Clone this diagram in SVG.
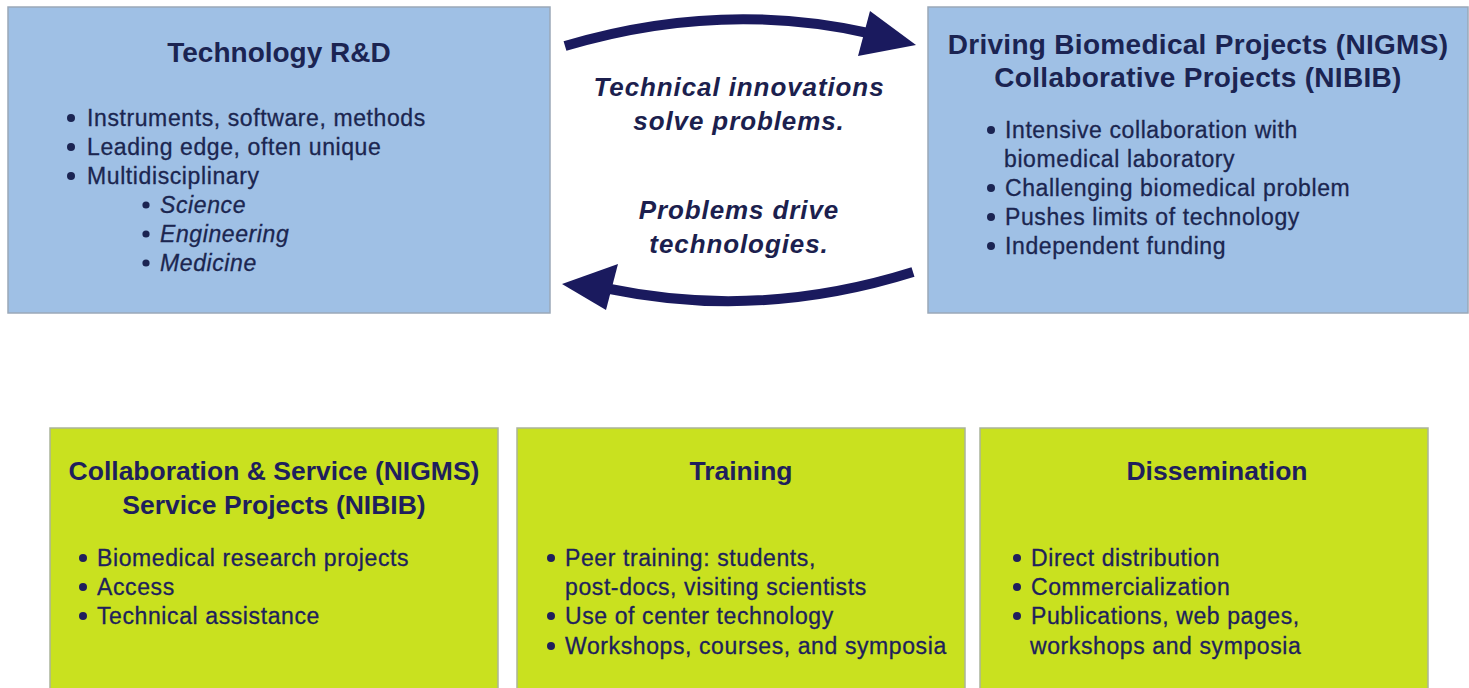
<svg xmlns="http://www.w3.org/2000/svg" width="1469" height="688" viewBox="0 0 1469 688">
  <style>
    text { font-family: "Liberation Sans", Arial, sans-serif; }
    .blue { fill: #9fc0e5; stroke: #9aa8b8; stroke-width: 1.5; }
    .green { fill: #c9e11f; stroke: #aab49a; stroke-width: 1.5; }
    .title { font-size: 28px; font-weight: bold; text-anchor: middle; fill: #1b2452; }
    .wide { letter-spacing: 0.3px; }
    .subtitle { font-size: 26.5px; font-weight: bold; text-anchor: middle; fill: #1f1f5c; }
    .item { font-size: 23px; letter-spacing: 0.6px; fill: #1b2650; stroke: #1b2650; stroke-width: 0.3px; }
    .item2 { font-size: 23px; letter-spacing: 0.6px; fill: #201f5c; stroke: #201f5c; stroke-width: 0.3px; }
    .em { font-style: italic; }
    .dot { fill: #1b2452; }
    .dot2 { fill: #201f5c; }
    .caption { font-size: 26px; font-weight: bold; font-style: italic; letter-spacing: 0.9px; text-anchor: middle; fill: #1c1f4e; }
    .arrow { fill: none; stroke: #1a1a5e; stroke-width: 10; stroke-linecap: butt; }
    .head { fill: #1a1a5e; }
  </style>

  <rect width="1469" height="688" fill="#ffffff"/>

  <!-- Technology R&D -->
  <g id="tech-rd">
    <rect class="blue" x="8" y="7" width="542" height="306"/>
    <text class="title" x="279" y="62">Technology R&amp;D</text>
    <circle class="dot" cx="71" cy="118" r="4"/>
    <text class="item" x="87" y="126">Instruments, software, methods</text>
    <circle class="dot" cx="71" cy="147" r="4"/>
    <text class="item" x="87" y="155">Leading edge, often unique</text>
    <circle class="dot" cx="71" cy="176" r="4"/>
    <text class="item" x="87" y="184">Multidisciplinary</text>
    <circle class="dot" cx="146" cy="205" r="3.6"/>
    <text class="item em" x="160" y="213">Science</text>
    <circle class="dot" cx="146" cy="234" r="3.6"/>
    <text class="item em" x="160" y="242">Engineering</text>
    <circle class="dot" cx="146" cy="263" r="3.6"/>
    <text class="item em" x="160" y="271">Medicine</text>
  </g>

  <!-- Driving Biomedical Projects -->
  <g id="driving-projects">
    <rect class="blue" x="928" y="7" width="540" height="306"/>
    <text class="title wide" x="1198" y="54">Driving Biomedical Projects (NIGMS)</text>
    <text class="title wide" x="1198" y="87">Collaborative Projects (NIBIB)</text>
    <circle class="dot" cx="991" cy="130" r="4"/>
    <text class="item" x="1005" y="138">Intensive collaboration with</text>
    <text class="item" x="1004" y="167">biomedical laboratory</text>
    <circle class="dot" cx="991" cy="188" r="4"/>
    <text class="item" x="1005" y="196">Challenging biomedical problem</text>
    <circle class="dot" cx="991" cy="217" r="4"/>
    <text class="item" x="1005" y="225">Pushes limits of technology</text>
    <circle class="dot" cx="991" cy="246" r="4"/>
    <text class="item" x="1005" y="254">Independent funding</text>
  </g>

  <!-- Collaboration & Service -->
  <g id="collab-service">
    <rect class="green" x="50" y="428" width="448" height="262"/>
    <text class="subtitle" x="274" y="480">Collaboration &amp; Service (NIGMS)</text>
    <text class="subtitle" x="274" y="514">Service Projects (NIBIB)</text>
    <circle class="dot2" cx="83" cy="558" r="4"/>
    <text class="item2" x="97" y="566">Biomedical research projects</text>
    <circle class="dot2" cx="83" cy="587" r="4"/>
    <text class="item2" x="97" y="595">Access</text>
    <circle class="dot2" cx="83" cy="616" r="4"/>
    <text class="item2" x="97" y="624">Technical assistance</text>
  </g>

  <!-- Training -->
  <g id="training">
    <rect class="green" x="517" y="428" width="448" height="262"/>
    <text class="subtitle" x="741" y="480">Training</text>
    <circle class="dot2" cx="551" cy="558" r="4"/>
    <text class="item2" x="565" y="566">Peer training: students,</text>
    <text class="item2" x="565" y="595">post-docs, visiting scientists</text>
    <circle class="dot2" cx="551" cy="616" r="4"/>
    <text class="item2" x="565" y="624">Use of center technology</text>
    <circle class="dot2" cx="551" cy="646" r="4"/>
    <text class="item2" x="565" y="654">Workshops, courses, and symposia</text>
  </g>

  <!-- Dissemination -->
  <g id="dissemination">
    <rect class="green" x="980" y="428" width="448" height="262"/>
    <text class="subtitle" x="1217" y="480">Dissemination</text>
    <circle class="dot2" cx="1017" cy="558" r="4"/>
    <text class="item2" x="1031" y="566">Direct distribution</text>
    <circle class="dot2" cx="1017" cy="587" r="4"/>
    <text class="item2" x="1031" y="595">Commercialization</text>
    <circle class="dot2" cx="1017" cy="616" r="4"/>
    <text class="item2" x="1031" y="624">Publications, web pages,</text>
    <text class="item2" x="1030" y="654">workshops and symposia</text>
  </g>

  <!-- Curved feedback arrows between the two top boxes -->
  <g id="connectors">
    <path class="arrow" d="M565,46 Q720,0 868,33"/>
    <polygon class="head" points="870,11 916,45 858,56"/>
    <path class="arrow" d="M913,272 Q760,320 610,289"/>
    <polygon class="head" points="562,284 618,264 606,310"/>
    <text class="caption" x="739" y="96">Technical innovations</text>
    <text class="caption" x="739" y="130">solve problems.</text>
    <text class="caption" x="739" y="219">Problems drive</text>
    <text class="caption" x="739" y="253">technologies.</text>
  </g>
</svg>
